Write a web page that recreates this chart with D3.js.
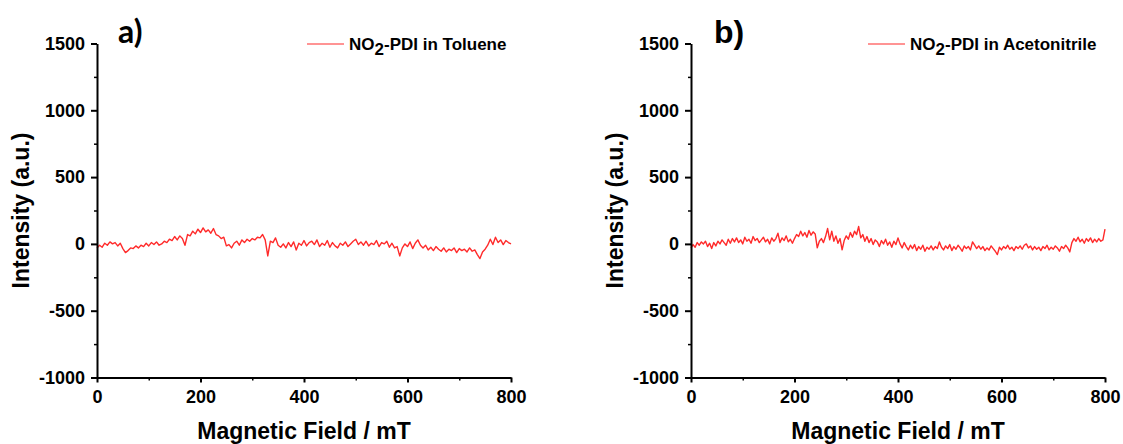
<!DOCTYPE html>
<html><head><meta charset="utf-8">
<script src="https://cdn.jsdelivr.net/npm/d3@7"></script>
<style>body{margin:0;background:#fff}svg{display:block}</style>
</head><body>
<svg id="c" width="1123" height="444"></svg>
<script>
// ---- data ----
const fieldDomain = [0, 800];
const intensityDomain = [-1000, 1500];
const xTicks = [0, 200, 400, 600, 800];
const xMinorTicks = [100, 300, 500, 700];
const yTicks = [-1000, -500, 0, 500, 1000, 1500];
const yMinorTicks = [-750, -250, 250, 750, 1250];
const panelLabels = ["a)", "b)"];
const solvents = ["Toluene", "Acetonitrile"];
const xTitle = "Magnetic Field / mT";
const yTitle = "Intensity (a.u.)";
const fieldStepToluene = 5;      // mT between samples
const fieldStepAcetonitrile = 4; // mT between samples

const tolueneValues = [
  -30,-10,-25,5,-10,15,0,10,-15,5,
  -35,-65,-50,-30,-35,-15,-30,-10,-20,5,
  -15,10,-5,15,-10,0,20,10,35,25,
  55,30,60,40,-10,70,60,95,75,110,
  85,120,90,105,80,115,70,60,40,50,
  -15,-5,-30,5,20,-10,30,10,35,20,
  40,30,50,45,70,30,-90,20,10,45,
  -10,-25,0,-30,10,-20,15,-45,5,-10,
  25,-15,10,20,-5,30,-20,5,-10,25,
  -25,10,-15,-30,5,-10,15,-20,0,20,
  35,-5,15,-10,20,-15,5,-5,25,-20,
  10,0,20,-25,5,-30,-20,-90,-30,0,
  -20,15,-35,5,30,-10,-30,-10,-45,-25,
  -50,-20,-40,-55,-30,-60,-40,-50,-30,-65,
  -35,-50,-40,-60,-30,-55,-45,-80,-110,-60,
  -40,-10,35,-5,50,10,30,-5,25,10,
  0
];

const acetonitrileValues = [
  -30,-5,-25,10,-10,15,0,20,-20,5,
  -35,10,-15,20,0,30,10,-10,35,5,
  40,15,45,10,30,0,50,20,35,5,
  55,25,40,10,30,50,15,35,0,45,
  20,40,80,10,45,25,60,15,35,5,
  40,70,55,95,60,85,50,100,65,90,
  75,-30,20,40,10,55,115,30,95,20,
  60,5,40,-45,25,60,35,85,50,95,
  70,130,45,70,20,55,10,40,-5,30,
  15,-20,25,0,35,-10,15,-25,20,-5,
  45,0,-30,10,-20,-45,-10,-35,-5,-50,
  -20,-40,-10,-55,-25,-40,-15,-45,-20,-35,
  15,-25,-45,-15,-35,-5,-50,-20,-40,-10,
  -30,-55,-15,-35,-20,-45,15,-10,-35,-15,
  -40,-20,-50,-30,-45,-15,-35,-55,-80,-25,
  -45,-20,-35,-10,-40,-25,-50,-20,-35,-15,
  -40,-10,0,-30,-15,-45,-20,-40,-25,-50,
  -20,-35,-10,-45,-25,-40,-15,-30,-55,-20,
  -35,-10,-30,-60,10,40,20,50,15,35,
  5,40,20,45,10,35,15,40,20,30,
  110
];

// ---- layout ----
const panels = [
  {values: tolueneValues, step: fieldStepToluene, x0: 97, x1: 511, labelX: 118, labelFont: "Lato, 'Liberation Sans', sans-serif", legX: 307, titleX: 29},
  {values: acetonitrileValues, step: fieldStepAcetonitrile, x0: 691, x1: 1105, labelX: 714, labelFont: "'Liberation Sans', Arial, sans-serif", legX: 868, titleX: 623}
];
const yTop = 43.5, yBottom = 377.5;
const lineColor = "#ff2a2a";
const font = "'Liberation Sans', Arial, Helvetica, sans-serif";
const fmt = d => String(d);

const svg = d3.select("#c");

panels.forEach((p, i) => {
  const x = d3.scaleLinear().domain(fieldDomain).range([p.x0, p.x1]);
  const y = d3.scaleLinear().domain(intensityDomain).range([yBottom, yTop]);
  const g = svg.append("g");

  const pts = p.values.map((v, k) => [k * p.step, v]);
  g.append("path")
    .datum(pts)
    .attr("fill", "none")
    .attr("stroke", lineColor)
    .attr("stroke-width", 1.4)
    .attr("stroke-linejoin", "round")
    .attr("d", d3.line().x(d => x(d[0])).y(d => y(d[1])));

  // minor ticks
  g.append("g").attr("transform", `translate(0,${yBottom})`)
    .call(d3.axisBottom(x).tickValues(xMinorTicks).tickSize(3).tickSizeOuter(0).tickFormat(""))
    .call(a => a.select(".domain").remove())
    .call(a => a.selectAll("line").attr("stroke-width", 1.5));
  g.append("g").attr("transform", `translate(${p.x0},0)`)
    .call(d3.axisLeft(y).tickValues(yMinorTicks).tickSize(3).tickSizeOuter(0).tickFormat(""))
    .call(a => a.select(".domain").remove())
    .call(a => a.selectAll("line").attr("stroke-width", 1.5));

  // major axes
  const xa = g.append("g").attr("transform", `translate(0,${yBottom})`)
    .call(d3.axisBottom(x).tickValues(xTicks).tickSize(5).tickSizeOuter(0).tickPadding(8).tickFormat(fmt));
  const ya = g.append("g").attr("transform", `translate(${p.x0},0)`)
    .call(d3.axisLeft(y).tickValues(yTicks).tickSize(6).tickSizeOuter(0).tickPadding(6).tickFormat(fmt));
  [xa, ya].forEach(a => {
    a.select(".domain").attr("stroke-width", 2);
    a.selectAll("line").attr("stroke-width", 2);
    a.selectAll("text").attr("font-family", font).attr("font-size", 18).attr("font-weight", "bold").attr("fill", "#000");
  });

  // axis titles
  g.append("text")
    .attr("x", (p.x0 + p.x1) / 2).attr("y", 439)
    .attr("text-anchor", "middle")
    .attr("font-family", font).attr("font-size", 23).attr("font-weight", "bold")
    .text(xTitle);
  g.append("text")
    .attr("transform", `translate(${p.titleX},${(yTop + yBottom) / 2}) rotate(-90)`)
    .attr("text-anchor", "middle")
    .attr("font-family", font).attr("font-size", 23).attr("font-weight", "bold")
    .text(yTitle);

  // panel label
  g.append("text")
    .attr("x", p.labelX).attr("y", 43)
    .attr("font-family", p.labelFont).attr("font-size", 32).attr("font-weight", "bold")
    .text(panelLabels[i]);

  // legend
  g.append("line")
    .attr("x1", p.legX).attr("x2", p.legX + 37)
    .attr("y1", 44).attr("y2", 44)
    .attr("stroke", lineColor).attr("stroke-width", 1.2);
  const t = g.append("text")
    .attr("x", p.legX + 42).attr("y", 50)
    .attr("font-family", font).attr("font-size", 17).attr("font-weight", "bold");
  t.append("tspan").text("NO");
  t.append("tspan").attr("dy", 5).text("2");
  t.append("tspan").attr("dy", -5).text("-PDI in " + solvents[i]);
});
</script>
</body></html>
